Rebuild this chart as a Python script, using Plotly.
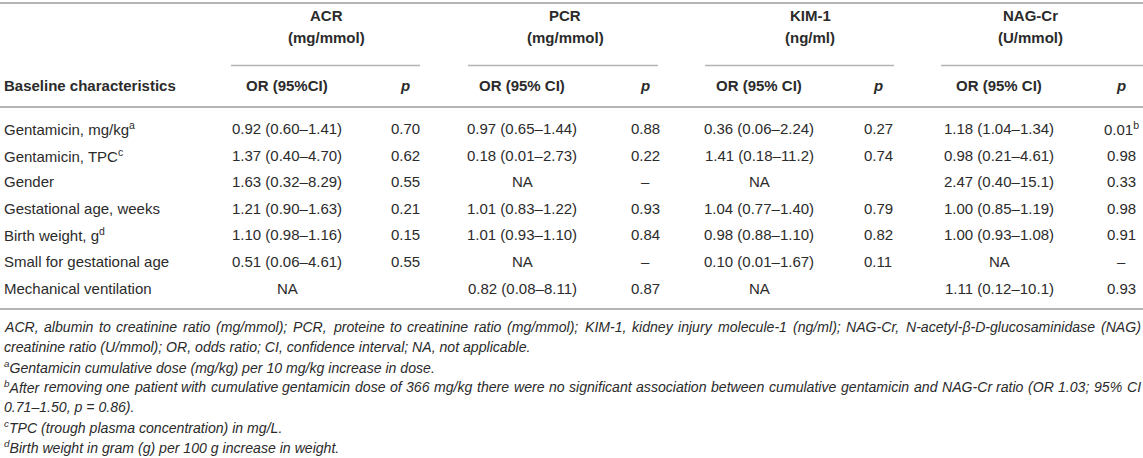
import plotly.graph_objects as go

# ---------------- data ----------------
row_labels = [
    "Gentamicin, mg/kg<sup>a</sup>",
    "Gentamicin, TPC<sup>c</sup>",
    "Gender",
    "Gestational age, weeks",
    "Birth weight, g<sup>d</sup>",
    "Small for gestational age",
    "Mechanical ventilation",
]
acr_or = ["0.92 (0.60–1.41)", "1.37 (0.40–4.70)", "1.63 (0.32–8.29)", "1.21 (0.90–1.63)",
          "1.10 (0.98–1.16)", "0.51 (0.06–4.61)", "NA"]
acr_p = ["0.70", "0.62", "0.55", "0.21", "0.15", "0.55", ""]
pcr_or = ["0.97 (0.65–1.44)", "0.18 (0.01–2.73)", "NA", "1.01 (0.83–1.22)",
          "1.01 (0.93–1.10)", "NA", "0.82 (0.08–8.11)"]
pcr_p = ["0.88", "0.22", "–", "0.93", "0.84", "–", "0.87"]
kim_or = ["0.36 (0.06–2.24)", "1.41 (0.18–11.2)", "NA", "1.04 (0.77–1.40)",
          "0.98 (0.88–1.10)", "0.10 (0.01–1.67)", "NA"]
kim_p = ["0.27", "0.74", "", "0.79", "0.82", "0.11", ""]
nag_or = ["1.18 (1.04–1.34)", "0.98 (0.21–4.61)", "2.47 (0.40–15.1)", "1.00 (0.85–1.19)",
          "1.00 (0.93–1.08)", "NA", "1.11 (0.12–10.1)"]
nag_p = ["0.01<sup>b</sup>", "0.98", "0.33", "0.98", "0.91", "–", "0.93"]

group_names = ["ACR", "PCR", "KIM-1", "NAG-Cr"]
group_units = ["(mg/mmol)", "(mg/mmol)", "(ng/ml)", "(U/mmol)"]
or_headers = ["OR (95%CI)", "OR (95% CI)", "OR (95% CI)", "OR (95% CI)"]
first_header = "Baseline characteristics"

# each footnote line: (superscript prefix, text, justified?)
footnotes = [
    ("", "ACR, albumin to creatinine ratio (mg/mmol); PCR, proteine to creatinine ratio (mg/mmol); KIM-1, kidney injury molecule-1 (ng/ml); NAG-Cr, N-acetyl-β-D-glucosaminidase (NAG)", True),
    ("", "creatinine ratio (U/mmol); OR, odds ratio; CI, confidence interval; NA, not applicable.", False),
    ("a", "Gentamicin cumulative dose (mg/kg) per 10 mg/kg increase in dose.", False),
    ("b", "After removing one patient with cumulative gentamicin dose of 366 mg/kg there were no significant association between cumulative gentamicin and NAG-Cr ratio (OR 1.03; 95% CI", True),
    ("", "0.71–1.50, p = 0.86).", False),
    ("c", "TPC (trough plasma concentration) in mg/L.", False),
    ("d", "Birth weight in gram (g) per 100 g increase in weight.", False),
]

# ---------------- layout geometry ----------------
W, H = 1143, 458
FONT = "Liberation Sans, Arial, Helvetica, sans-serif"
TXT = "#2b2b2b"
RULE = "#b4b4b4"
body_size = 15
foot_size = 14.1

or_x = [287, 522, 759, 999]
p_x = [405, 645, 878, 1121]
grp_x = [326, 565, 810, 1030]
rule_spans = [(231, 420), (468, 658), (705, 894), (941, 1143)]

y_top_rule = 3
y_grp = 15
y_unit = 37
y_sub_rule = 65.5
y_hdr = 85
y_hdr_rule = 107
y_row0 = 128.5
row_h = 26.6
y_bot_rule = 309
y_foot0 = 327
foot_h = 20
x_left = 3
x_right = 1140

# Arial / Liberation Sans advance widths (per 1000 em)
_AFM = {' ': 278, ',': 278, '.': 278, ';': 278, ':': 278, '(': 333, ')': 333, '-': 333, '/': 278,
        '%': 889, '=': 584, '–': 556, 'β': 575,
        'A': 667, 'B': 667, 'C': 722, 'D': 722, 'E': 667, 'F': 611, 'G': 778, 'H': 722, 'I': 278,
        'J': 500, 'K': 667, 'L': 556, 'M': 833, 'N': 722, 'O': 778, 'P': 667, 'Q': 778, 'R': 722,
        'S': 667, 'T': 611, 'U': 722, 'V': 667, 'W': 944, 'X': 667, 'Y': 667, 'Z': 611,
        'a': 556, 'b': 556, 'c': 500, 'd': 556, 'e': 556, 'f': 278, 'g': 556, 'h': 556, 'i': 222,
        'j': 222, 'k': 500, 'l': 222, 'm': 833, 'n': 556, 'o': 556, 'p': 556, 'q': 556, 'r': 333,
        's': 500, 't': 278, 'u': 556, 'v': 500, 'w': 722, 'x': 500, 'y': 500, 'z': 500}

def text_w(s, size):
    return sum(_AFM.get(ch, 556) for ch in s) / 1000.0 * size

fig = go.Figure()
fig.add_trace(go.Scatter(x=[0, W], y=[0, H], mode="markers", marker=dict(opacity=0),
                         hoverinfo="skip", showlegend=False))

ann = []

def add(text, x, y, anchor="center", bold=False, italic=False, size=body_size):
    ann.append(dict(text=text, x=x, y=y, xref="x", yref="y", xanchor=anchor, yanchor="middle",
                    showarrow=False, borderpad=0,
                    font=dict(family=FONT, size=size, color=TXT,
                              weight="bold" if bold else "normal",
                              style="italic" if italic else "normal")))

for g in range(4):
    add(group_names[g], grp_x[g], y_grp, bold=True)
    add(group_units[g], grp_x[g], y_unit, bold=True)
    add(or_headers[g], or_x[g], y_hdr, bold=True)
    add("p", p_x[g], y_hdr, bold=True, italic=True)
add(first_header, x_left, y_hdr, anchor="left", bold=True)

cols = [(acr_or, acr_p), (pcr_or, pcr_p), (kim_or, kim_p), (nag_or, nag_p)]
for i, lab in enumerate(row_labels):
    y = y_row0 + i * row_h
    add(lab, x_left, y, anchor="left")
    for g, (orv, pv) in enumerate(cols):
        if orv[i]:
            add(orv[i], or_x[g], y)
        if pv[i]:
            add(pv[i], p_x[g], y)

for j, (sup, txt, justify) in enumerate(footnotes):
    y = y_foot0 + j * foot_h
    prefix = "<sup>" + sup + "</sup>" if sup else ""
    if not justify:
        add(prefix + txt, x_left, y, anchor="left", italic=True, size=foot_size)
        continue
    words = txt.split(" ")
    widths = [text_w(w, foot_size) for w in words]
    widths[0] += text_w(sup, foot_size * 0.7)
    gap = (x_right - x_left - sum(widths)) / (len(words) - 1)
    x = x_left
    for k, w in enumerate(words):
        add((prefix if k == 0 else "") + w, x, y, anchor="left", italic=True, size=foot_size)
        x += widths[k] + gap

shapes = []
def hline(x0, x1, y, w=1.6):
    shapes.append(dict(type="line", xref="x", yref="y", x0=x0, x1=x1, y0=y, y1=y,
                       line=dict(color=RULE, width=w)))

hline(0, W, y_top_rule, 2)
for a, b in rule_spans:
    hline(a, b, y_sub_rule)
hline(0, W, y_hdr_rule, 2)
hline(0, W, y_bot_rule, 2)

fig.update_layout(
    width=W, height=H, margin=dict(l=0, r=0, t=0, b=0),
    paper_bgcolor="white", plot_bgcolor="white",
    xaxis=dict(range=[0, W], visible=False, fixedrange=True),
    yaxis=dict(range=[H, 0], visible=False, fixedrange=True),
    annotations=ann, shapes=shapes, showlegend=False,
)
fig.write_html("out.html", config={"displayModeBar": False},
               post_script="document.body.style.margin='0';document.body.style.padding='0';document.body.style.overflow='hidden';")
